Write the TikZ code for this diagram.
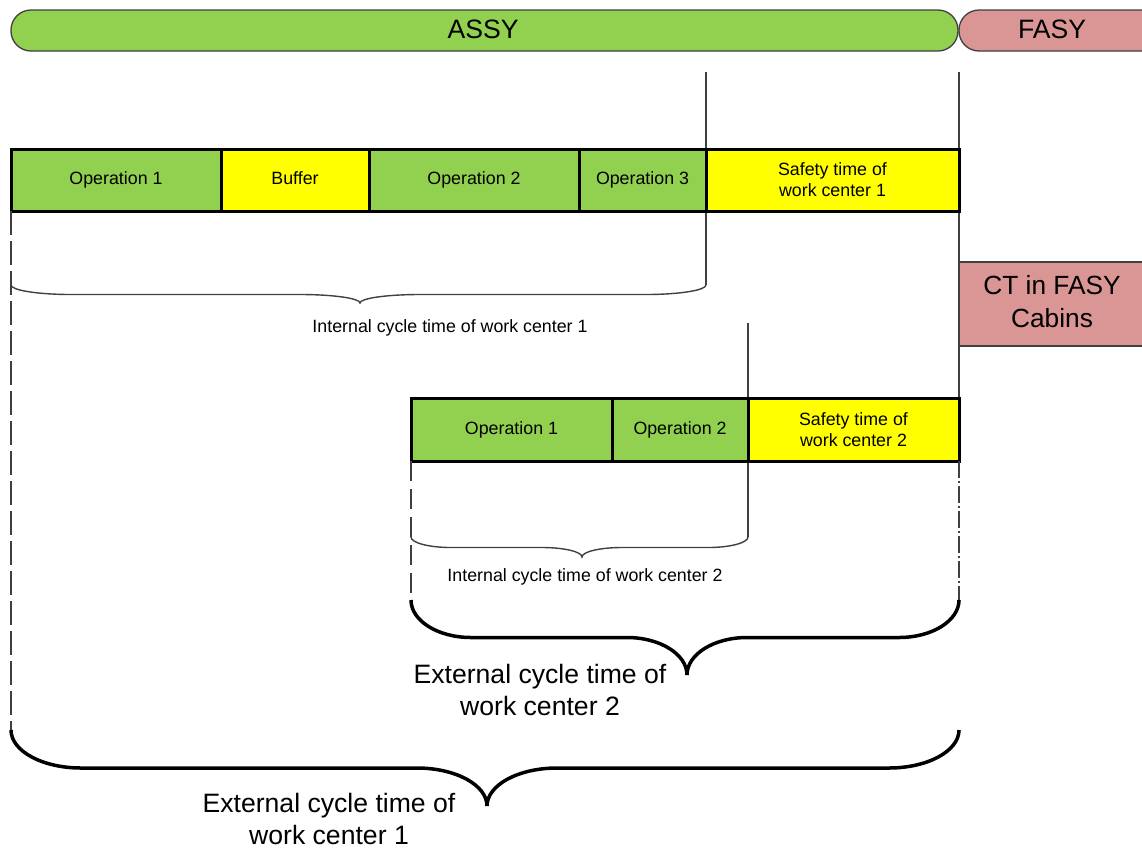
\documentclass[tikz,border=0pt]{standalone}
\usepackage{fontspec}
\setmainfont{Liberation Sans}
\definecolor{opgreen}{HTML}{92D050}
\definecolor{bufyellow}{HTML}{FFFF00}
\definecolor{fasypink}{HTML}{D99694}
\definecolor{guide}{HTML}{404040}

% Curly brace made of four quarter ellipses:
% #1 style, #2 left x, #3 right x, #4 tip x, #5 end y, #6 bar y, #7 tip y, #8 curl width
\newcommand{\drawbrace}[8]{%
  \pgfmathsetmacro\kx{0.5523*#8}%
  \pgfmathsetmacro\kya{0.5523*(#6-#5)}%
  \pgfmathsetmacro\kyb{0.5523*(#7-#6)}%
  \draw[#1] (#2,#5) .. controls (#2,#5+\kya) and (#2+#8-\kx,#6) .. (#2+#8,#6)
    -- (#4-#8,#6) .. controls (#4-#8+\kx,#6) and (#4,#7-\kyb) .. (#4,#7)
    .. controls (#4,#7-\kyb) and (#4+#8-\kx,#6) .. (#4+#8,#6)
    -- (#3-#8,#6) .. controls (#3-#8+\kx,#6) and (#3,#5+\kya) .. (#3,#5);
}

\begin{document}
\begin{tikzpicture}[x=1pt,y=-1pt,
  smalltext/.style={font=\fontsize{17.8}{21}\selectfont, align=center},
  bigtext/.style={font=\fontsize{26.6}{32}\selectfont, align=center},
  cell/.style={draw=black, line width=3pt, inner sep=0pt, outer sep=0pt, smalltext},
  oneline/.style={text height=12.8pt, text depth=3.8pt},
  opcell/.style={cell, oneline, fill=opgreen},
  bufcell/.style={cell, oneline, fill=bufyellow},
  safecell/.style={cell, fill=bufyellow},
  pill/.style={draw=guide, line width=1.3pt, rounded corners=20pt},
  guideline/.style={draw=guide, line width=1.3pt},
  longdash/.style={draw=guide, line width=1.5pt, dash pattern=on 24pt off 6pt},
  dashdot/.style={draw=guide, line width=1.5pt, dash pattern=on 17pt off 3pt on 2pt off 3pt},
  thinbrace/.style={draw=guide, line width=1.4pt},
  thickbrace/.style={draw=black, line width=3.5pt},
]
\useasboundingbox (0,0) rectangle (1142,847);
\clip (0,0) rectangle (1142,847);
\fill[white] (0,0) rectangle (1142,847);

% Phase bars
\draw[pill, fill=opgreen] (11,10) rectangle (958,51);
\draw[pill, fill=fasypink] (959,10) rectangle (1180,51);
\node[bigtext] (assy) at (483,29) {ASSY};
\node[bigtext] (fasy) at (1052,29) {FASY};

% Cycle time in final assembly
\draw[draw=guide, line width=1.2pt, fill=fasypink] (959,262) rectangle (1160,346);
\node[bigtext, font=\fontsize{26.3}{33}\selectfont] (ctfasy) at (1052,302) {CT in FASY\\Cabins};

% Guide line anchors
\coordinate (g1top) at (706,72);
\coordinate (g1end) at (706,285);
\coordinate (gftop) at (959,72);
\coordinate (g2top) at (748,323);
\coordinate (g2end) at (748,537);
\coordinate (w1end) at (11,730);
\coordinate (w2end) at (411,600);
\coordinate (rend) at (959,600);

% Solid guide lines (drawn behind the cells)
\draw[guideline] (g1top) -- (g1end);
\draw[guideline] (gftop) -- (959,398);
\draw[guideline] (g2top) -- (g2end);

% Work center 1
\node[opcell, minimum width=210pt, minimum height=62pt] (w1op1) at (116,180) {Operation 1};
\node[bufcell, minimum width=148pt, minimum height=62pt] (w1buf) at (295,180) {Buffer};
\node[opcell, minimum width=210pt, minimum height=62pt] (w1op2) at (474,180) {Operation 2};
\node[opcell, minimum width=127pt, minimum height=62pt] (w1op3) at (642.5,180) {Operation 3};
\node[safecell, minimum width=253pt, minimum height=62pt] (w1safe) at (832.5,180) {Safety time of\\work center 1};

% Work center 2
\node[opcell, minimum width=201pt, minimum height=63pt] (w2op1) at (511.5,429.5) {Operation 1};
\node[opcell, minimum width=136pt, minimum height=63pt] (w2op2) at (680,429.5) {Operation 2};
\node[safecell, minimum width=211pt, minimum height=63pt] (w2safe) at (853.5,429.5) {Safety time of\\work center 2};

% Dashed extensions
\draw[longdash] (w1op1.south west) -- (w1end);
\draw[longdash, dash pattern=on 20pt off 8pt] (w2op1.south west) -- (w2end);
\draw[dashdot] (w2safe.south east) -- (rend);

% Internal cycle times
\drawbrace{thinbrace}{11}{706}{360}{285}{294.5}{303}{60}
\node[smalltext] (int1) at (450,328) {Internal cycle time of work center 1};
\drawbrace{thinbrace}{411}{748}{582}{537}{547.5}{557}{40}
\node[smalltext] (int2) at (585,576.5) {Internal cycle time of work center 2};

% External cycle times
\drawbrace{thickbrace}{411}{959}{687}{600}{637.5}{675}{60}
\node[bigtext] (ext2) at (540,690) {External cycle time of\\work center 2};
\drawbrace{thickbrace}{11}{959}{487}{730}{768}{806}{70}
\node[bigtext] (ext1) at (329,819) {External cycle time of\\work center 1};
\end{tikzpicture}
\end{document}
